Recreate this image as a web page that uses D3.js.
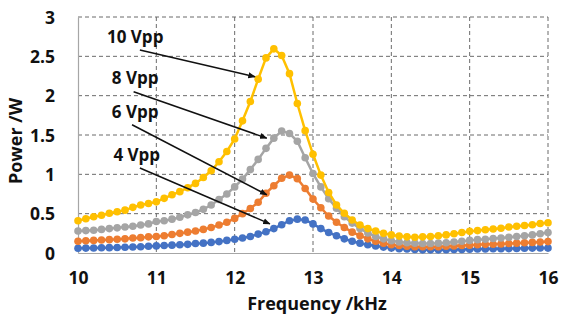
<!DOCTYPE html>
<html>
<head>
<meta charset="utf-8">
<script src="https://cdn.jsdelivr.net/npm/d3@7"></script>
<style>
  body { margin: 0; background: #fff; }
  svg { display: block; font-family: "Open Sans", Lato, sans-serif; }
</style>
</head>
<body>
<svg id="chart" width="561" height="321"></svg>
<script>
// frequency points, kHz
const freq = [10.0, 10.1, 10.2, 10.3, 10.4, 10.5, 10.6, 10.7, 10.8, 10.9,
    11.0, 11.1, 11.2, 11.3, 11.4, 11.5, 11.6, 11.7, 11.8, 11.9,
    12.0, 12.1, 12.2, 12.3, 12.4, 12.5, 12.6, 12.7, 12.8, 12.9,
    13.0, 13.1, 13.2, 13.3, 13.4, 13.5, 13.6, 13.7, 13.8, 13.9,
    14.0, 14.1, 14.2, 14.3, 14.4, 14.5, 14.6, 14.7, 14.8, 14.9,
    15.0, 15.1, 15.2, 15.3, 15.4, 15.5, 15.6, 15.7, 15.8, 15.9, 16.0];

// power, W
const p4 = [0.06, 0.062, 0.064, 0.066, 0.068, 0.07, 0.073, 0.076, 0.08, 0.085,
    0.09, 0.095, 0.1, 0.105, 0.11, 0.12, 0.125, 0.135, 0.145, 0.16,
    0.175, 0.19, 0.21, 0.24, 0.27, 0.31, 0.36, 0.41, 0.43, 0.42,
    0.37, 0.31, 0.26, 0.22, 0.18, 0.15, 0.125, 0.105, 0.09, 0.075,
    0.065, 0.055, 0.05, 0.045, 0.04, 0.04, 0.04, 0.042, 0.044, 0.046,
    0.048, 0.05, 0.052, 0.054, 0.055, 0.056, 0.058, 0.06, 0.062, 0.063, 0.064];

const p6 = [0.15, 0.155, 0.16, 0.165, 0.17, 0.175, 0.18, 0.19, 0.195, 0.205,
    0.21, 0.22, 0.235, 0.25, 0.265, 0.28, 0.3, 0.325, 0.355, 0.39,
    0.44, 0.5, 0.565, 0.645, 0.76, 0.855, 0.95, 0.99, 0.945, 0.82,
    0.685, 0.575, 0.47, 0.39, 0.325, 0.265, 0.22, 0.18, 0.15, 0.125,
    0.105, 0.095, 0.085, 0.08, 0.08, 0.08, 0.08, 0.085, 0.09, 0.095,
    0.1, 0.105, 0.11, 0.112, 0.115, 0.12, 0.125, 0.13, 0.135, 0.14, 0.145];

const p8 = [0.28, 0.285, 0.29, 0.3, 0.31, 0.32, 0.33, 0.34, 0.355, 0.37,
    0.4, 0.41, 0.43, 0.455, 0.485, 0.515, 0.555, 0.61, 0.68, 0.75,
    0.84, 0.94, 1.06, 1.19, 1.33, 1.46, 1.55, 1.52, 1.42, 1.21,
    1.01, 0.84, 0.69, 0.57, 0.46, 0.38, 0.31, 0.255, 0.21, 0.18,
    0.155, 0.14, 0.13, 0.125, 0.12, 0.12, 0.125, 0.13, 0.14, 0.15,
    0.16, 0.17, 0.175, 0.185, 0.19, 0.2, 0.21, 0.22, 0.23, 0.245, 0.26];

const p10 = [0.41, 0.435, 0.46, 0.48, 0.505, 0.525, 0.545, 0.58, 0.61, 0.63,
    0.65, 0.695, 0.74, 0.78, 0.83, 0.885, 0.96, 1.045, 1.16, 1.29,
    1.45, 1.68, 1.925, 2.21, 2.48, 2.595, 2.51, 2.28, 1.9, 1.555,
    1.255, 0.99, 0.77, 0.61, 0.505, 0.42, 0.355, 0.31, 0.28, 0.25,
    0.23, 0.215, 0.205, 0.2, 0.205, 0.21, 0.22, 0.23, 0.245, 0.26,
    0.275, 0.285, 0.295, 0.305, 0.315, 0.33, 0.34, 0.35, 0.36, 0.375, 0.385];

const seriesNames = ["4 Vpp", "6 Vpp", "8 Vpp", "10 Vpp"];
const seriesColors = ["#4472c4", "#ed7d31", "#a5a5a5", "#ffc000"];

const xTicks = [10, 11, 12, 13, 14, 15, 16];
const yTicks = [0, 0.5, 1, 1.5, 2, 2.5, 3];

// annotation labels and arrows, in data units (kHz, W)
const noteLabelX = [10.75, 10.73, 10.73, 10.73];
const noteLabelY = [1.25, 1.8, 2.22, 2.75];
const noteFromX = [10.79, 10.69, 10.71, 10.79];
const noteFromY = [1.08, 1.63, 2.05, 2.58];
const noteToX = [12.45, 12.41, 12.41, 12.26];
const noteToY = [0.37, 0.74, 1.46, 2.24];

const svg = d3.select("#chart");
const margin = { top: 17, right: 13, bottom: 68, left: 78 };
const width = 561 - margin.left - margin.right;
const height = 321 - margin.top - margin.bottom;

const g = svg.append("g")
    .attr("transform", `translate(${margin.left},${margin.top})`);

const x = d3.scaleLinear().domain([10, 16]).range([0, width]);
const y = d3.scaleLinear().domain([0, 3]).range([height, 0]);

// dashed grid
g.append("g")
    .selectAll("line")
    .data(yTicks.filter(d => d > 0))
    .join("line")
    .attr("x1", 0).attr("x2", width)
    .attr("y1", d => y(d)).attr("y2", d => y(d))
    .attr("stroke", "#6b6b6b")
    .attr("stroke-width", 1)
    .attr("stroke-dasharray", "4,3");

g.append("g")
    .selectAll("line")
    .data(xTicks.filter(d => d > 10))
    .join("line")
    .attr("x1", d => x(d)).attr("x2", d => x(d))
    .attr("y1", 0).attr("y2", height)
    .attr("stroke", "#6b6b6b")
    .attr("stroke-width", 1)
    .attr("stroke-dasharray", "4,3");

// axes
const yAxis = g.append("g")
    .call(d3.axisLeft(y).tickValues(yTicks).tickSize(0).tickPadding(23)
        .tickFormat(d => d));
const xAxis = g.append("g")
    .attr("transform", `translate(0,${height})`)
    .call(d3.axisBottom(x).tickValues(xTicks).tickSize(0).tickPadding(19)
        .tickFormat(d => d));

[xAxis, yAxis].forEach(ax => {
    ax.select(".domain").attr("stroke", "#a6a6a6").attr("stroke-width", 1.2);
    ax.selectAll("text")
        .attr("font-family", "'Open Sans', Lato, sans-serif")
        .attr("font-size", 17.5)
        .attr("font-weight", 700)
        .attr("fill", "#111");
});
yAxis.selectAll("text").attr("dy", "0.36em");

// series
const line = d3.line()
    .x((d, i) => x(freq[i]))
    .y(d => y(d));

const allSeries = [p4, p6, p8, p10];

allSeries.forEach((vals, k) => {
    const sg = g.append("g").attr("class", "series");
    sg.append("path")
        .datum(vals)
        .attr("fill", "none")
        .attr("stroke", seriesColors[k])
        .attr("stroke-width", 2.5)
        .attr("d", line);
    sg.selectAll("circle")
        .data(vals)
        .join("circle")
        .attr("cx", (d, i) => x(freq[i]))
        .attr("cy", d => y(d))
        .attr("r", 3.8)
        .attr("fill", seriesColors[k]);
});

// arrows and labels
svg.append("defs").append("marker")
    .attr("id", "arrow")
    .attr("viewBox", "0 0 10 10")
    .attr("refX", 9).attr("refY", 5)
    .attr("markerWidth", 5).attr("markerHeight", 5)
    .attr("orient", "auto")
    .append("path")
    .attr("d", "M0,1 L10,5 L0,9 Z")
    .attr("fill", "#111");

seriesNames.forEach((name, k) => {
    g.append("line")
        .attr("x1", x(noteFromX[k])).attr("y1", y(noteFromY[k]))
        .attr("x2", x(noteToX[k])).attr("y2", y(noteToY[k]))
        .attr("stroke", "#111")
        .attr("stroke-width", 1.5)
        .attr("marker-end", "url(#arrow)");
    g.append("text")
        .attr("x", x(noteLabelX[k]))
        .attr("y", y(noteLabelY[k]))
        .attr("dy", "0.36em")
        .attr("text-anchor", "middle")
        .attr("font-size", 17)
        .attr("font-weight", 700)
        .attr("fill", "#111")
        .text(name);
});

// axis titles
g.append("text")
    .attr("x", width / 2 + 4)
    .attr("y", height + 57)
    .attr("text-anchor", "middle")
    .attr("font-size", 18)
    .attr("font-weight", 700)
    .attr("fill", "#111")
    .text("Frequency /kHz");

g.append("text")
    .attr("transform", "rotate(-90)")
    .attr("x", -height / 2 - 6)
    .attr("y", -56)
    .attr("text-anchor", "middle")
    .attr("font-size", 18)
    .attr("font-weight", 700)
    .attr("fill", "#111")
    .text("Power /W");
</script>
</body>
</html>
